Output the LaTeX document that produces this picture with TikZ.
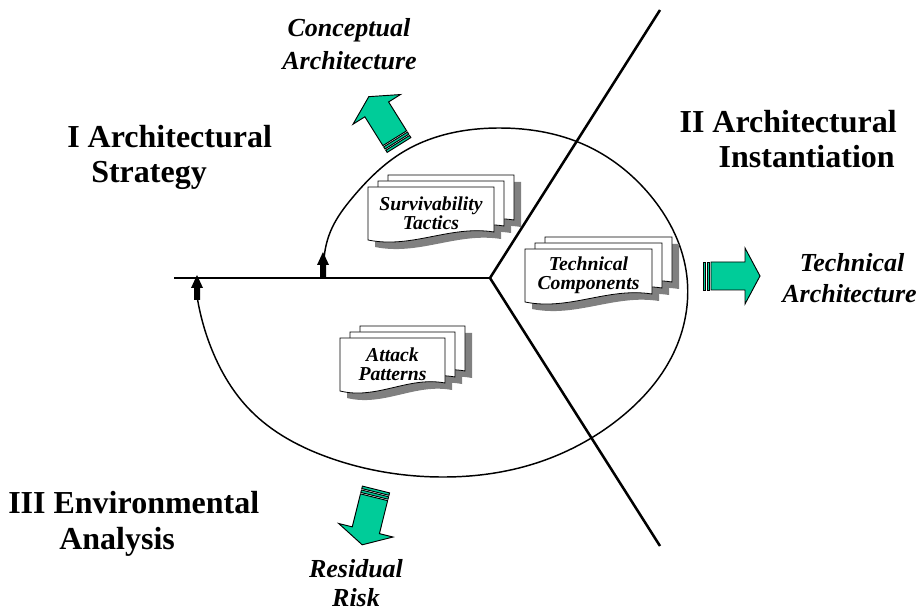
\documentclass[tikz,border=0pt]{standalone}
\usepackage{fontspec}
\setmainfont{Liberation Serif}
\usetikzlibrary{hobby}
\definecolor{arrowgreen}{RGB}{0,204,153}
\definecolor{shadowgray}{RGB}{128,128,128}
\tikzset{
  bigarrowline/.style={draw=black, line width=0.7pt, fill=arrowgreen, line join=miter},
  divider/.style={line width=1.9pt},
  cycleline/.style={line width=1.1pt},
  heading/.style={font=\fontsize{24}{26}\selectfont\bfseries, inner sep=0pt},
  outlabel/.style={font=\fontsize{19.5}{24}\selectfont\bfseries\itshape, inner sep=0pt},
  doclabel/.style={font=\fontsize{14.8}{14}\selectfont\bfseries\itshape, align=center, inner sep=0pt},
  pagebox/.style={draw=black, line width=0.6pt, fill=white},
  pageshadow/.style={fill=shadowgray},
  bigarrow/.pic={
    \fill[white] (0,-14) rectangle (8,14);
    \draw[bigarrowline] (0,-14) rectangle (2.5,14);
    \draw[bigarrowline] (4,-14) rectangle (6.5,14);
    \draw[bigarrowline] (8,-14) -- (42,-14) -- (42,-28) -- (57,0) -- (42,28) -- (42,14) -- (8,14) -- cycle;
  }
}
\newcommand\pgshape[1]{(0,0) -- (#1,0) -- (#1,45) .. controls (0.65*#1,38) and (0.35*#1,62) .. (0,53) -- cycle}
\newcommand\docstack[5]{%
  \begin{scope}[shift={(#1,#2)}]
    \foreach \dx/\dy in {20/-12,10/-6,0/0}{
      \fill[pageshadow, shift={(\dx+7,\dy+7)}] \pgshape{#3};
    }
    \foreach \dx/\dy in {20/-12,10/-6,0/0}{
      \draw[pagebox, shift={(\dx,\dy)}] \pgshape{#3};
    }
    \node[doclabel] (#4) at (0.5*#3,26) {#5};
  \end{scope}%
}
\begin{document}
\begin{tikzpicture}[x=0.75pt,y=-0.75pt]
\useasboundingbox (0,0) rectangle (922,613);

% dividers
\coordinate (hub) at (490,278);
\coordinate (leftend) at (174,278);
\coordinate (topend) at (660,10);
\coordinate (botend) at (660,546);
\draw[divider] (leftend) -- (hub);
\draw[divider] (hub) -- (topend);
\draw[divider] (hub) -- (botend);

% cycle curve
\coordinate (cstart) at (324,260);
\coordinate (cend) at (197,296);
\draw[cycleline, use Hobby shortcut] (cstart) .. (332,228) .. (353,197) .. (403,152) .. (500,128)
  .. (585,145) .. (650,195) .. (686,270) .. (675,350) .. (620,418) .. (530,465) .. (440,477)
  .. (330,458) .. (250,410) .. (212,350) .. (cend);

% small black arrows
\fill (323,252) -- (329,265) -- (326,265) -- (326,279) -- (320,279) -- (320,265) -- (317,265) -- cycle;
\fill (197,275) -- (203,288) -- (200,288) -- (200,300) -- (194,300) -- (194,288) -- (191,288) -- cycle;

% document stacks
\docstack{368}{187}{126}{surv}{Survivability\\Tactics}
\docstack{525}{249}{127}{tech}{Technical\\Components}
\docstack{340}{338}{105}{attack}{Attack\\Patterns}

% green arrows
\pic[rotate=122] at (399,145) {bigarrow};
\pic at (703,276) {bigarrow};
\pic[rotate=-104] at (376,489.5) {bigarrow};

% headings
\node[heading, anchor=base west] (h1a) at (67,148) {I Architectural};
\node[heading, anchor=base west] (h1b) at (91,183) {Strategy};
\node[heading, anchor=base east] (h2a) at (897,133) {II Architectural};
\node[heading, anchor=base east] (h2b) at (895,168) {Instantiation};
\node[heading, anchor=base west] (h3a) at (8,513) {III Environmental};
\node[heading, anchor=base west] (h3b) at (59,549) {Analysis};

% outcome labels
\node[outlabel, anchor=base] (ca1) at (349,37) {Conceptual};
\node[outlabel, anchor=base] (ca2) at (349.5,70) {Architecture};
\node[outlabel, anchor=base] (ta1) at (852,272) {Technical};
\node[outlabel, anchor=base] (ta2) at (849.5,303) {Architecture};
\node[outlabel, anchor=base] (rr1) at (356,577) {Residual};
\node[outlabel, anchor=base] (rr2) at (356,606) {Risk};
\end{tikzpicture}
\end{document}
